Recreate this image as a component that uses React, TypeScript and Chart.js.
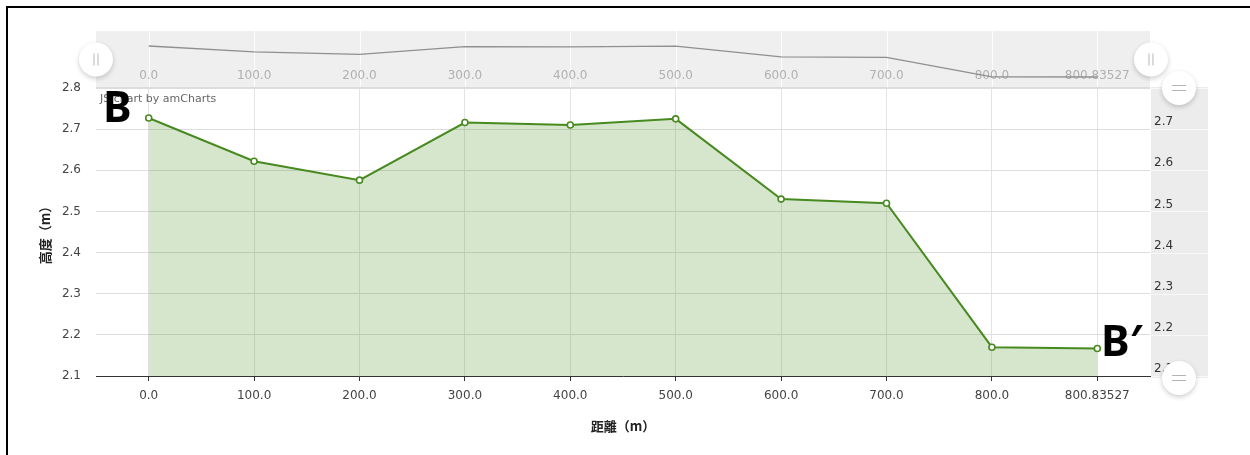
import React, { useEffect, useRef } from "react";
import { Chart, registerables } from "chart.js";

Chart.register(...registerables);

// ---- data ----
const categories = ["0.0", "100.0", "200.0", "300.0", "400.0", "500.0", "600.0", "700.0", "800.0", "800.83527"];
const elevations = [2.727, 2.622, 2.576, 2.716, 2.71, 2.725, 2.53, 2.52, 2.17, 2.167];
const yMin = 2.1;
const yMax = 2.8;
const yStep = 0.1;
const xTitle = "距離（m）";
const yTitle = "高度（m）";
const watermark = "JS chart by amCharts";
const startLabel = "B";
const endLabel = "B′";

const FONT = '"DejaVu Sans", Verdana, sans-serif';
const CJK = '"Noto Sans CJK TC", "Noto Sans CJK SC", sans-serif';

const scrollbarPlugin = {
  id: "scrollbars",
  beforeDraw(chart: any) {
    const { ctx, chartArea: a, scales } = chart;
    const x = scales.x;
    const y2 = scales.y2;
    const line = (x1: number, y1: number, x2: number, y2p: number) => {
      ctx.beginPath();
      ctx.moveTo(x1, y1);
      ctx.lineTo(x2, y2p);
      ctx.stroke();
    };
    ctx.save();
    // top horizontal scrollbar band
    const bandTop = 31;
    ctx.fillStyle = "#efefef";
    ctx.fillRect(a.left, bandTop, a.right - a.left, a.top - bandTop);
    ctx.strokeStyle = "#fcfcfc";
    ctx.lineWidth = 1;
    categories.forEach((_, i) => {
      const px = Math.round(x.getPixelForTick(i)) + 0.5;
      line(px, bandTop, px, a.top - 1);
    });
    ctx.strokeStyle = "#dcdcdc";
    line(a.left, a.top - 0.5, a.right, a.top - 0.5);
    // right vertical scrollbar band
    ctx.fillStyle = "#ececec";
    ctx.fillRect(a.right + 1, a.top - 1, 57, a.bottom - a.top + 3);
    ctx.strokeStyle = "#f8f8f8";
    y2.ticks.forEach((t: any) => {
      const py = Math.round(y2.getPixelForValue(t.value)) + 0.5;
      line(a.right + 1, py, a.right + 58, py);
    });
    // scrollbar category labels
    ctx.fillStyle = "#b0b0b0";
    ctx.font = `12px ${FONT}`;
    ctx.textAlign = "center";
    ctx.textBaseline = "middle";
    categories.forEach((c, i) => ctx.fillText(c, x.getPixelForTick(i), 76));
    ctx.restore();
  },
  afterDraw(chart: any) {
    const { ctx, chartArea: a } = chart;
    ctx.save();
    ctx.fillStyle = "#666";
    ctx.font = `11px ${FONT}`;
    ctx.textAlign = "left";
    ctx.textBaseline = "middle";
    ctx.fillText(watermark, a.left + 4, a.top + 11);
    ctx.restore();

    const handle = (cx: number, cy: number, vertical: boolean) => {
      ctx.save();
      ctx.shadowColor = "rgba(0,0,0,0.2)";
      ctx.shadowBlur = 5;
      ctx.shadowOffsetY = 2;
      ctx.beginPath();
      ctx.arc(cx, cy, 17, 0, Math.PI * 2);
      ctx.fillStyle = "#fff";
      ctx.fill();
      ctx.restore();
      ctx.save();
      ctx.strokeStyle = "#b5b5b5";
      ctx.lineWidth = 1;
      ctx.beginPath();
      if (vertical) {
        ctx.moveTo(cx - 2, cy - 6);
        ctx.lineTo(cx - 2, cy + 6);
        ctx.moveTo(cx + 2, cy - 6);
        ctx.lineTo(cx + 2, cy + 6);
      } else {
        ctx.moveTo(cx - 7, cy - 2.5);
        ctx.lineTo(cx + 7, cy - 2.5);
        ctx.moveTo(cx - 7, cy + 2.5);
        ctx.lineTo(cx + 7, cy + 2.5);
      }
      ctx.stroke();
      ctx.restore();
    };
    handle(a.left, 59.5, true);
    handle(a.right + 1, 59.5, true);
    handle(a.right + 29, a.top, false);
    handle(a.right + 29, a.bottom + 2, false);
  },
};

export default function App() {
  const ref = useRef<HTMLCanvasElement | null>(null);

  useEffect(() => {
    if (!ref.current) return;
    const chart = new Chart(ref.current, {
      type: "line",
      data: {
        labels: categories,
        datasets: [
          {
            data: elevations,
            yAxisID: "y",
            borderColor: "#478a1f",
            borderWidth: 2,
            backgroundColor: "rgba(69,139,28,0.22)",
            fill: "start",
            tension: 0,
            pointRadius: 3,
            pointBorderWidth: 1.6,
            pointBackgroundColor: "#ffffff",
            pointBorderColor: "#478a1f",
          },
          {
            data: elevations,
            yAxisID: "yMini",
            borderColor: "#8f8f8f",
            borderWidth: 1.3,
            fill: false,
            tension: 0,
            pointRadius: 0,
            clip: false as any,
          },
        ],
      },
      options: {
        responsive: false,
        animation: false,
        layout: { padding: { top: 88, bottom: 17, left: 33, right: 42 } },
        plugins: { legend: { display: false }, tooltip: { enabled: false } },
        scales: {
          x: {
            type: "category",
            offset: true,
            grid: { offset: false, color: "#e3e3e3", tickColor: "#333", tickLength: 5 },
            border: { color: "#333", width: 1 },
            ticks: { color: "#444", font: { family: FONT, size: 12 }, padding: 8, maxRotation: 0, autoSkip: false },
            title: {
              display: true,
              text: xTitle,
              color: "#222",
              font: { family: CJK, size: 13, weight: "bold" },
            },
            afterFit(s: any) {
              s.height = 62;
            },
          },
          y: {
            position: "left",
            min: yMin,
            max: yMax,
            ticks: {
              stepSize: yStep,
              padding: 15,
              color: "#444",
              font: { family: FONT, size: 12 },
              callback: (v: any) => Number(v).toFixed(1),
            },
            grid: { color: "#dddddd", drawTicks: false },
            border: { display: false },
            title: {
              display: true,
              text: yTitle,
              color: "#222",
              font: { family: CJK, size: 13, weight: "bold" },
            },
            afterFit(s: any) {
              s.width = 63;
            },
          },
          y2: {
            position: "right",
            min: yMin,
            max: yMax,
            ticks: {
              stepSize: yStep,
              padding: 4,
              labelOffset: -7,
              color: "#333",
              font: { family: FONT, size: 12 },
              callback: (v: any) => (Math.abs(Number(v) - yMax) < 1e-6 ? "" : Number(v).toFixed(1)),
            },
            grid: { display: false, drawTicks: false },
            border: { display: false },
            afterFit(s: any) {
              s.width = 58;
            },
          },
          yMini: {
            display: false,
            min: -3.234,
            max: 1.968,
          },
        },
      } as any,
      plugins: [scrollbarPlugin],
    });
    return () => chart.destroy();
  }, []);

  const labelStyle: React.CSSProperties = {
    position: "absolute",
    fontFamily: '"Noto Sans", sans-serif',
    fontWeight: 700,
    fontSize: 43,
    lineHeight: 1,
    color: "#000",
    whiteSpace: "nowrap",
  };

  return (
    <div
      style={{
        position: "fixed",
        left: 0,
        top: 0,
        width: 1250,
        height: 455,
        overflow: "hidden",
        background: "#fff",
      }}
    >
      <div
        style={{
          position: "absolute",
          left: 6,
          top: 6,
          width: 1400,
          height: 600,
          border: "2px solid #000",
          boxSizing: "border-box",
        }}
      />
      <canvas ref={ref} width={1250} height={455} style={{ position: "absolute", left: 0, top: 0 }} />
      <div style={{ ...labelStyle, left: 103, top: 84 }}>{startLabel}</div>
      <div style={{ ...labelStyle, left: 1101, top: 318 }}>{endLabel}</div>
    </div>
  );
}
